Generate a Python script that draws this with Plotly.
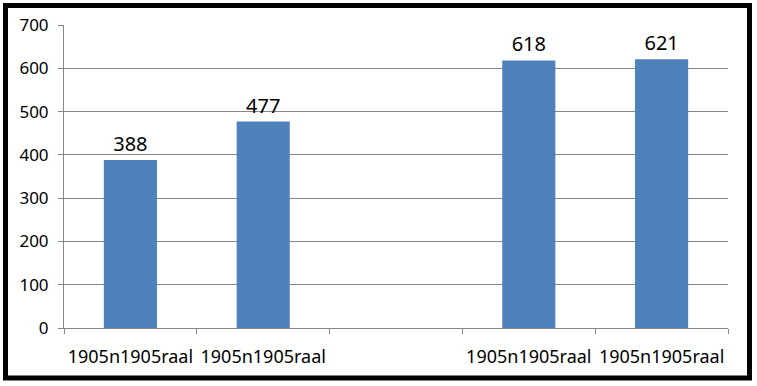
import plotly.graph_objects as go

categories = ["1905n1905raal", "1905n1905raal", "", "1905n1905raal", "1905n1905raal"]
values = [388, 477, None, 618, 621]
y_ticks = [0, 100, 200, 300, 400, 500, 600, 700]

W, H = 757, 386
L, R, T, B = 64, 29, 25, 58
pw, ph = W - L - R, H - T - B

positions = list(range(1, len(categories) + 1))
bx = [p for p, v in zip(positions, values) if v is not None]
by = [v for v in values if v is not None]

fig = go.Figure(go.Bar(
    x=bx, y=by, width=0.4,
    marker=dict(color="#4F81BD", line=dict(width=0)),
    text=[str(v) for v in by], textposition="outside",
    textfont=dict(family="Noto Sans", size=20, color="#000000"),
    cliponaxis=False,
))

def px_x(p):
    return (p - L) / pw

def px_y(p):
    return 1 - (p - T) / ph

fig.update_layout(
    width=W, height=H,
    margin=dict(l=L, r=R, t=T, b=B),
    paper_bgcolor="white", plot_bgcolor="white",
    showlegend=False,
    font=dict(family="Noto Sans", color="#000000"),
    xaxis=dict(
        range=[0.5, len(categories) + 0.5],
        tickmode="array", tickvals=positions, ticktext=categories,
        ticks="", showgrid=False, zeroline=False,
        showline=True, linecolor="#868686", linewidth=1,
        tickfont=dict(size=18, color="#000000"),
        ticklabelstandoff=12,
        minor=dict(tickmode="array",
                   tickvals=[p + 0.5 for p in [0] + positions],
                   ticks="outside", ticklen=5, tickcolor="#868686", tickwidth=1,
                   showgrid=False),
    ),
    yaxis=dict(
        range=[0, 700], tickvals=y_ticks,
        showgrid=True, gridcolor="#868686", gridwidth=1,
        zeroline=False,
        showline=True, linecolor="#868686", linewidth=1,
        ticks="outside", ticklen=5, tickcolor="#868686",
        tickfont=dict(size=17, color="#000000"),
        ticklabelstandoff=6,
    ),
    shapes=[dict(
        type="rect", xref="paper", yref="paper",
        x0=px_x(5.5), x1=px_x(749.5), y0=px_y(5.5), y1=px_y(378),
        line=dict(color="#000000", width=5), fillcolor="rgba(0,0,0,0)",
        layer="above",
    )],
)

fig.write_html("out.html",
               config={"displayModeBar": False},
               post_script="document.body.style.margin='0';document.body.style.overflow='hidden';")
